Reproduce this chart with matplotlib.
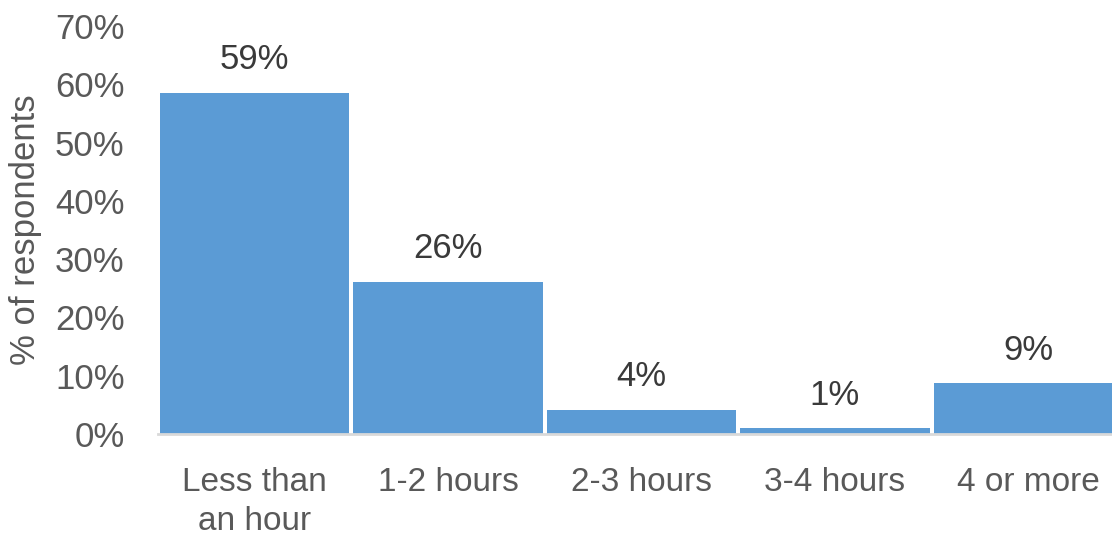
import matplotlib
matplotlib.use("Agg")
import matplotlib.pyplot as plt
from matplotlib.ticker import FuncFormatter, MultipleLocator

categories = ["Less than\nan hour", "1-2 hours", "2-3 hours", "3-4 hours", "4 or more"]
values = [58.5, 26.1, 4.1, 1.0, 8.7]
labels = ["59%", "26%", "4%", "1%", "9%"]

plt.rcParams['font.family'] = ['Liberation Sans', 'DejaVu Sans']

fig = plt.figure(figsize=(11.12, 5.36), dpi=100)
W, H = 1112, 536
left, right, bottom, top = 158, 1125, 434, 26
ax = fig.add_axes([left / W, 1 - bottom / H, (right - left) / W, (bottom - top) / H])

x = list(range(len(categories)))
ax.bar(x, values, width=0.98, color="#5B9BD5", zorder=2)
ax.set_xlim(-0.5, len(categories) - 0.5)
ax.set_ylim(0, 70)
ax.yaxis.set_major_locator(MultipleLocator(10))
ax.yaxis.set_major_formatter(FuncFormatter(lambda v, p: f"{int(round(v))}%"))

for xi, v, lab in zip(x, values, labels):
    ax.annotate(lab, (xi, v), xytext=(0, 12), textcoords="offset points",
                ha="center", va="bottom", fontsize=25, color="#3A3A3A")

ax.set_xticks(x)
ax.set_xticklabels(categories, fontsize=24, color="#595959", linespacing=1.3, va="top")
ax.tick_params(axis="x", length=0, pad=24)
ax.tick_params(axis="y", length=0, pad=24, labelsize=25, labelcolor="#595959")
for lbl in ax.get_yticklabels():
    lbl.set_horizontalalignment("right")

for s in ["top", "right", "left"]:
    ax.spines[s].set_visible(False)
ax.spines["bottom"].set_color("#D9D9D9")
ax.spines["bottom"].set_linewidth(2)
ax.spines["bottom"].set_zorder(3)

fig.text(26 / W, 1 - 230 / H, "% of respondents", rotation=90, ha="center", va="center",
         fontsize=25, color="#595959")

fig.savefig("out.png", dpi=100)
